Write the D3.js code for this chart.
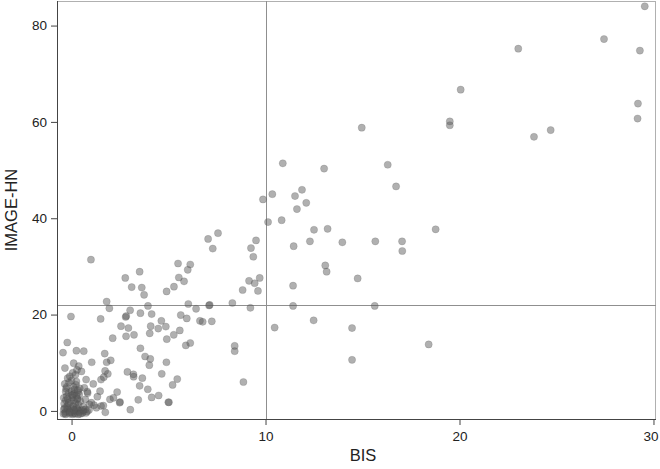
<!DOCTYPE html>
<html><head><meta charset="utf-8">
<script src="https://cdn.jsdelivr.net/npm/d3@7"></script>
<style>body{margin:0;background:#fff}svg{display:block;font-family:"Liberation Sans",Arial,sans-serif}</style>
</head><body>
<svg id="chart" width="660" height="469"></svg>
<script>
const bis = [
29.55,27.45,29.3,23.03,20.06,19.5,19.5,29.2,29.18,24.7,23.84,
14.96,10.89,13.02,16.3,16.73,11.88,10.35,11.52,9.87,12.1,11.62,10.13,10.83,12.5,13.2,18.77,12.29,11.45,13.96,15.66,17.04,17.05,13.08,13.15,14.75,11.42,11.42,15.63,12.48,10.47,14.46,18.41,14.46,
7.55,7.04,7.28,9.51,9.25,9.37,1.0,3.51,5.49,6.12,5.99,5.53,5.8,2.77,3.1,3.62,3.74,5.28,4.9,9.15,9.7,9.44,9.61,8.82,8.29,9.22,1.81,1.95,-0.03,1.5,3.02,2.79,2.82,3.94,3.55,4.13,6.02,6.42,7.09,7.12,5.63,5.94,6.62,6.76,7.23,4.63,2.55,2.93,4.08,4.86,4.47,5.58,4.03,5.27,3.22,2.81,2.12,4.91,
3.55,5.89,6.12,8.41,8.41,3.79,4.06,4.01,4.89,2.88,3.19,3.2,3.65,4.65,5.45,5.21,3.51,3.93,8.86,2.5,3.44,4.13,4.49,4.99,5.02,3.03,
-0.22,-0.44,0.25,0.63,1.71,1.04,2.02,1.81,-0.34,0.11,0.37,0.28,0.51,0.06,-0.09,0.2,0.75,1.73,1.87,1.66,1.52,1.12,-0.13,-0.25,0.23,0.42,0.66,0.83,1.33,2.35,2.16,1.98,2.48,1.02,1.16,1.52,1.74,1.28,0.92,0.71,0.81,1.47,1.64,
-0.3,-0.15,0.0,0.15,0.35,-0.25,0.05,0.3,-0.3,-0.05,0.2,0.45,-0.2,0.1,0.35,0.6,0.0,-0.2,0.25,0.1,-0.35,
-0.4,-0.3,-0.2,-0.1,0.0,0.1,0.2,0.3,0.4,0.5,0.6,0.7,0.8,0.9,-0.35,0.15,0.55,0.35,-0.05,0.75,0.25,-0.25,
-0.42,-0.3,-0.1,0.05,0.2,0.35,-0.38,-0.2,0.0,0.15,0.3,0.4,-0.35,-0.15,0.1,0.25,-0.28,0.05,0.32,-0.4,0.12,0.45,0.6,-0.1
];
const imageHn = [
84.0,77.2,74.8,75.2,66.7,60.1,59.3,63.8,60.7,58.3,56.9,
58.8,51.4,50.3,51.1,46.6,45.9,45.0,44.6,43.9,43.2,41.9,39.2,39.6,37.6,37.8,37.7,35.2,34.2,35.0,35.2,35.2,33.2,30.2,28.9,27.5,26.0,21.8,21.8,18.8,17.3,17.2,13.8,10.6,
36.9,35.7,33.7,35.4,33.8,32.0,31.4,28.9,30.6,30.4,29.3,27.7,26.9,27.6,25.7,25.6,24.1,25.8,24.8,27.0,27.6,26.5,24.9,25.1,22.4,21.4,22.7,21.3,19.6,19.1,20.9,19.5,19.7,21.8,20.3,20.1,22.2,21.2,21.9,22.0,19.9,19.2,18.7,18.5,18.6,18.7,17.6,17.2,17.6,17.5,17.1,16.7,16.1,15.8,15.8,15.5,15.1,14.9,
13.0,13.6,14.1,13.5,12.4,11.3,10.8,9.5,10.1,8.1,7.6,7.1,6.8,7.7,6.6,5.4,5.2,4.5,6.0,1.85,2.3,2.8,3.2,1.8,1.8,0.25,
14.2,12.1,12.5,12.4,11.9,10.1,10.5,10.1,8.9,9.9,9.3,8.5,8.2,7.9,7.2,7.5,6.5,8.3,7.7,7.0,6.5,5.6,5.9,5.0,5.4,4.7,4.8,3.7,2.95,3.9,2.7,2.4,1.7,1.7,1.2,1.0,-0.3,0.66,1.37,2.4,4.0,4.1,1.1,
4.0,3.7,4.1,3.6,3.9,3.0,2.8,2.6,2.2,1.9,1.6,2.0,1.2,1.0,1.3,0.9,6.3,6.8,6.1,5.0,5.6,
0.3,-0.2,0.4,0.0,-0.4,0.3,-0.1,0.4,-0.3,0.1,-0.2,0.3,-0.1,0.2,-0.5,-0.5,-0.5,0.0,0.5,-0.4,0.7,0.8,
-0.6,-0.7,-0.6,-0.7,-0.6,-0.7,1.5,2.5,3.3,4.5,2.4,3.4,0.6,1.6,2.2,3.2,4.6,3.3,4.3,2.7,0.1,-0.6,0.2,-0.3
];
const xTicks = [0, 10, 20, 30];
const yTicks = [0, 20, 40, 60, 80];
const refX = 10;
const refY = 22;
const xLabel = "BIS";
const yLabel = "IMAGE-HN";

const svg = d3.select("#chart");
const L = 57, R = 656, T = 1, B = 419;
const x = d3.scaleLinear().domain([-0.75, 30.13]).range([L, R]);
const y = d3.scaleLinear().domain([-1.68, 85.1]).range([B, T]);

// frame
svg.append("line").attr("x1", L).attr("x2", R).attr("y1", T + 0.5).attr("y2", T + 0.5).attr("stroke", "#b0b0b0");
svg.append("line").attr("x1", R - 0.5).attr("x2", R - 0.5).attr("y1", T).attr("y2", B).attr("stroke", "#b0b0b0");

// reference lines
svg.append("line").attr("x1", Math.round(x(refX)) + 0.5).attr("x2", Math.round(x(refX)) + 0.5)
  .attr("y1", T).attr("y2", B).attr("stroke", "#8f8f8f");
svg.append("line").attr("x1", L).attr("x2", R)
  .attr("y1", Math.round(y(refY)) + 0.5).attr("y2", Math.round(y(refY)) + 0.5).attr("stroke", "#8f8f8f");

// points
const pts = bis.map((b, i) => [b, imageHn[i]]);
svg.append("g").selectAll("circle").data(pts).join("circle")
  .attr("cx", d => x(d[0])).attr("cy", d => y(d[1])).attr("r", 3.6)
  .attr("fill", "#5a5a5a").attr("fill-opacity", 0.48)
  .attr("stroke", "#505050").attr("stroke-opacity", 0.3).attr("stroke-width", 0.6);

// axes
const gx = svg.append("g").attr("transform", `translate(0,${B})`)
  .call(d3.axisBottom(x).tickValues(xTicks).tickSize(6).tickPadding(6));
const gy = svg.append("g").attr("transform", `translate(${L},0)`)
  .call(d3.axisLeft(y).tickValues(yTicks).tickSize(6).tickPadding(4));
[gx, gy].forEach(g => {
  g.select(".domain").attr("stroke", "#444");
  g.selectAll(".tick line").attr("stroke", "#444");
  g.selectAll(".tick text").attr("fill", "#222").style("font-size", "13.5px").style("font-family", "Liberation Sans, Arial, sans-serif");
});
gy.select(".domain").attr("d", `M0.5,${B}V${T}`);
gx.select(".domain").attr("d", `M${L},0.5H${R}`);
gx.selectAll(".tick").filter(d => d === 30).select("text").attr("dx", "-3");

svg.append("text").attr("x", 363).attr("y", 461).attr("text-anchor", "middle")
  .attr("fill", "#222").style("font-size", "16.5px").text(xLabel);
svg.append("text").attr("transform", `translate(17,210) rotate(-90)`).attr("text-anchor", "middle")
  .attr("fill", "#222").style("font-size", "16.5px").text(yLabel);
</script>
</body></html>
